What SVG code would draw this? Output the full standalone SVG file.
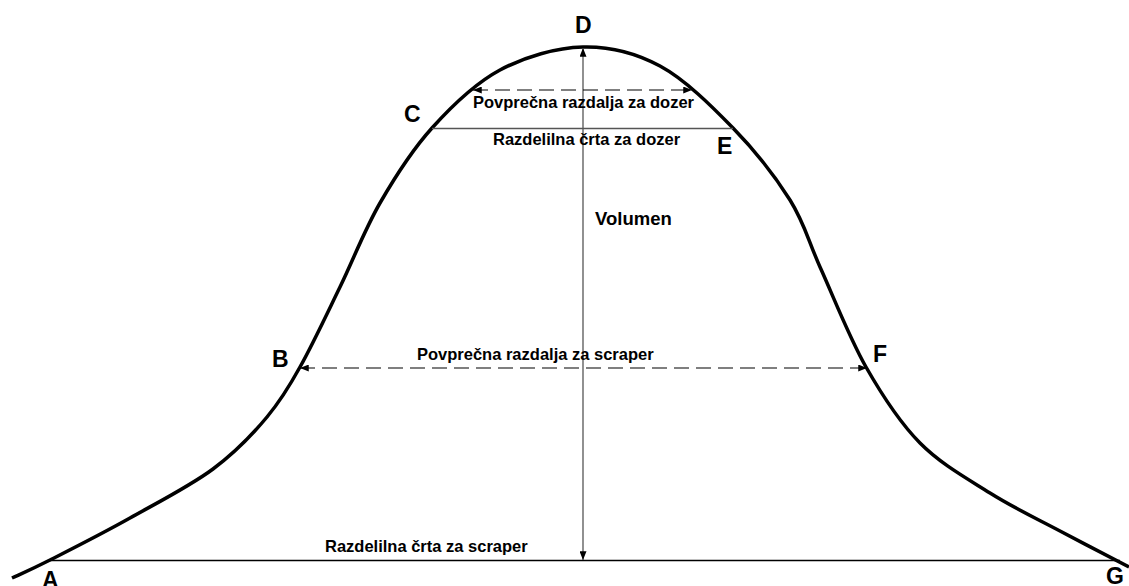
<svg xmlns="http://www.w3.org/2000/svg" width="1129" height="586" viewBox="0 0 1129 586">
<style>
.t{font-family:"Liberation Sans",Arial,sans-serif;font-weight:bold;fill:#000}
.s{font-size:16.5px}
.L{font-size:23px}
.dash{stroke:#000;stroke-width:1.2;fill:none;stroke-dasharray:15 7}
.gray{stroke:#555;stroke-width:1.3;fill:none}
</style>
<defs>
<marker id="ah" viewBox="0 0 10 8" refX="10" refY="4" markerWidth="9" markerHeight="7" markerUnits="userSpaceOnUse" orient="auto-start-reverse">
<path d="M0,0 L10,4 L0,8 z" fill="#000"/>
</marker>
</defs>
<rect width="1129" height="586" fill="#fff"/>
<g id="profile">
<path d="M12,578 C18.3,575 30.3,570 50,560 C69.7,550 102.8,533.3 130,518 C157.2,502.7 190.2,486 213,469 C235.8,452 252.5,434.5 267,417 C281.5,399.5 289,387 300,367 C312.2,345.3 326.7,314.3 340,287 C353.3,259.7 364.7,229.5 380,203 C395.3,176.5 412,150.2 432,128 C452,105.8 474.8,83.5 500,70 C525.2,56.5 556.3,47.7 583,47 C609.7,46.3 635,52.5 660,66 C685,79.5 711.3,105.7 733,128 C754.7,150.3 775.5,176.8 790,200 C804.5,223.2 808,240 820,267 C832.7,294.8 849.3,337.7 866,367 C882.7,396.3 899.3,422 920,443 C940.7,464 966.7,478.3 990,493 C1013.3,507.7 1036.8,518.7 1060,531 C1083.2,543.3 1117.5,561 1129,567" fill="none" stroke="#000" stroke-width="3.5" stroke-linejoin="round"/>
</g>
<g id="connectors">
<line id="base-line" x1="50" y1="560.5" x2="1120" y2="560.5" stroke="#000" stroke-width="1.5"/>
<line id="dozer-line" x1="432" y1="128.5" x2="733" y2="128.5" class="gray"/>
<line id="volume-arrow" x1="583" y1="48" x2="583" y2="560" class="gray" marker-start="url(#ah)" marker-end="url(#ah)"/>
<line id="dozer-dist" x1="473" y1="90" x2="692" y2="90" class="dash" marker-start="url(#ah)" marker-end="url(#ah)"/>
<line id="scraper-dist" x1="300" y1="368" x2="867" y2="368" class="dash" marker-start="url(#ah)" marker-end="url(#ah)"/>
</g>
<g id="texts">
<text class="t s" x="473" y="108">Povprečna razdalja za dozer</text>
<text class="t s" x="493" y="145">Razdelilna črta za dozer</text>
<text class="t" x="595" y="225" font-size="18.5">Volumen</text>
<text class="t s" x="417" y="360">Povprečna razdalja za scraper</text>
<text class="t s" x="325" y="552">Razdelilna črta za scraper</text>
</g>
<g id="point-labels">
<text id="A" class="t L" x="42" y="588">A</text>
<text id="B" class="t L" x="272" y="367">B</text>
<text id="C" class="t L" x="404" y="122">C</text>
<text id="D" class="t L" x="575" y="33">D</text>
<text id="E" class="t L" x="717" y="154">E</text>
<text id="F" class="t L" x="873" y="362">F</text>
<text id="G" class="t L" x="1106" y="584">G</text>
</g>
</svg>
